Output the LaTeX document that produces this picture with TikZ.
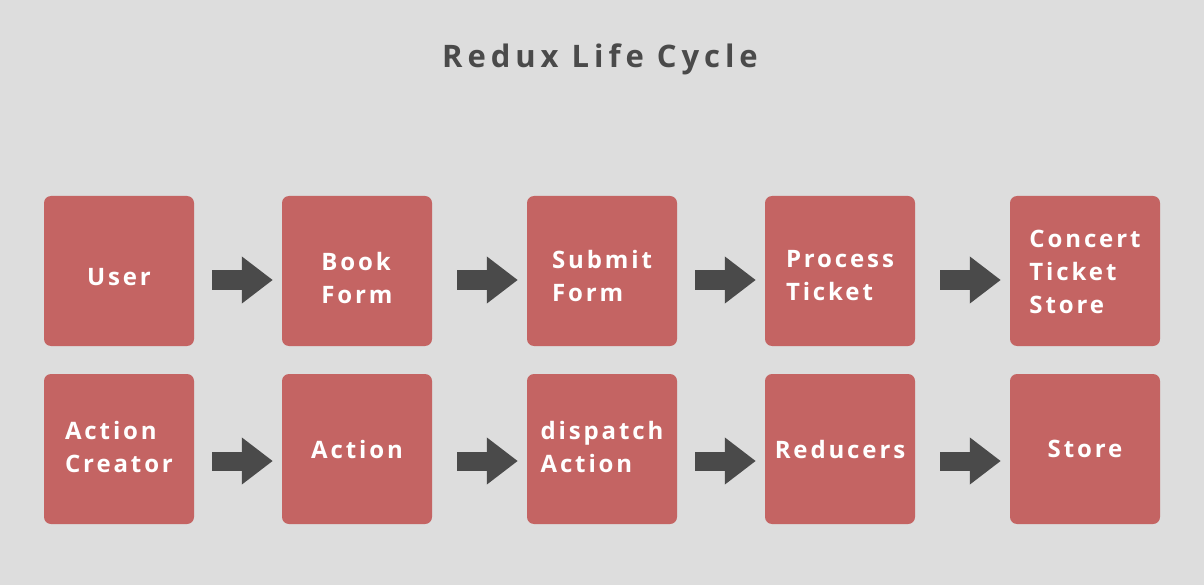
\documentclass[tikz,border=0pt]{standalone}
\usepackage{fontspec}
\setmainfont{Open Sans}
\newfontfamily\boxfont[LetterSpace=12]{Open Sans}
\newfontfamily\titlefont[LetterSpace=16]{Open Sans}
\usetikzlibrary{arrows.meta}
\definecolor{bg}{HTML}{DDDDDD}
\definecolor{boxred}{HTML}{C46463}
\definecolor{ink}{HTML}{4A4A4A}
\tikzset{
  stage/.style={minimum size=150pt, inner sep=0pt, rounded corners=7pt, fill=boxred},
  caption/.style={inner sep=0pt, text=white, align=left, font=\boxfont\bfseries\fontsize{24}{33}\selectfont},
  flow/.style={draw=ink, line width=19pt, -{Triangle[length=31pt,width=45pt]}, shorten >=9pt},
}
\begin{document}
\begin{tikzpicture}[x=1pt, y=-1pt]
\useasboundingbox[fill=bg] (0, 0) rectangle (1204, 585);
\node[anchor=base, text=ink, font=\titlefont\bfseries\fontsize{31}{36}\selectfont] (title) at (600, 68) {Redux Life Cycle};

% top row
\node[stage] (user) at (119, 271) {};
\node[stage] (book) at (357, 271) {};
\node[stage] (submit) at (602, 271) {};
\node[stage] (process) at (840, 271) {};
\node[stage] (concert) at (1085, 271) {};
\node[caption] (user text) at (119, 277) {User};
\node[caption] (book text) at (357, 278) {Book\\Form};
\node[caption] (submit text) at (602, 276) {Submit\\Form};
\node[caption] (process text) at (840, 276) {Process\\Ticket};
\node[caption] (concert text) at (1085, 272) {Concert\\Ticket\\Store};

% bottom row
\node[stage] (creator) at (119, 449) {};
\node[stage] (action) at (357, 449) {};
\node[stage] (dispatch) at (602, 449) {};
\node[stage] (reducers) at (840, 449) {};
\node[stage] (store) at (1085, 449) {};
\node[caption] (creator text) at (119, 447) {Action\\Creator};
\node[caption] (action text) at (357, 449) {Action};
\node[caption] (dispatch text) at (602, 447) {dispatch\\Action};
\node[caption] (reducers text) at (840, 449) {Reducers};
\node[caption] (store text) at (1085, 449) {Store};

\draw[flow, shorten <=18pt] ([yshift=-9pt]user.east) -- ([yshift=-9pt]book.west);
\draw[flow, shorten <=25pt] ([yshift=-9pt]book.east) -- ([yshift=-9pt]submit.west);
\draw[flow, shorten <=18pt] ([yshift=-9pt]submit.east) -- ([yshift=-9pt]process.west);
\draw[flow, shorten <=25pt] ([yshift=-9pt]process.east) -- ([yshift=-9pt]concert.west);
\draw[flow, shorten <=18pt] ([yshift=-12pt]creator.east) -- ([yshift=-12pt]action.west);
\draw[flow, shorten <=25pt] ([yshift=-12pt]action.east) -- ([yshift=-12pt]dispatch.west);
\draw[flow, shorten <=18pt] ([yshift=-12pt]dispatch.east) -- ([yshift=-12pt]reducers.west);
\draw[flow, shorten <=25pt] ([yshift=-12pt]reducers.east) -- ([yshift=-12pt]store.west);
\end{tikzpicture}
\end{document}
